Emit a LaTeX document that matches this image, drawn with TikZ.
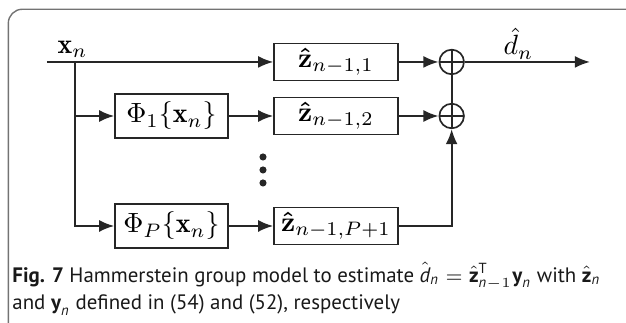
\documentclass[tikz,border=0pt]{standalone}
\usepackage{amsmath}
\usepackage{amssymb}
\usepackage{fontspec}
\newfontfamily\capfont{PT Sans}
\usetikzlibrary{arrows.meta,calc,positioning}
\tikzset{
  blk/.style={rectangle,draw=black!85,fill=white,line width=.5pt,inner sep=0pt,minimum width=1.565cm,minimum height=.47cm},
  nlb/.style={blk,minimum width=1.426cm,minimum height=.555cm},
  sm/.style={circle,draw=black!85,fill=white,minimum size=3.1mm,inner sep=0pt,line width=.6pt,
    path picture={\draw[line width=.6pt] (path picture bounding box.north)--(path picture bounding box.south)
      (path picture bounding box.west)--(path picture bounding box.east);}},
  wire/.style={draw=black!85,line width=.7pt},
  sig/.style={wire,-{Latex[length=1.9mm,width=1.5mm]}},
  frm/.style={draw=black!55,line width=.5pt,rounded corners=5pt},
  lb/.style={inner sep=0pt},
  captxt/.style={font=\capfont\fontsize{7.5}{10}\selectfont,anchor=base west,inner sep=0pt,text=black!90},
}
\begin{document}
\begin{tikzpicture}
\useasboundingbox (0,0) rectangle (7.900,4.076);
% ---------- frame ----------
\draw[frm] (0.105,-0.1) |- (8.0,3.959);
% ---------- blocks ----------
\node[blk] (z1) at (4.240,3.294) {$\boldsymbol{\hat{\mathbf{z}}}_{n-1,1}$};
\node[nlb] (phi1) at (2.164,2.612) {$\Phi_1\{\mathbf{x}_n\}$};
\node[blk] (z2) at (4.240,2.612) {$\boldsymbol{\hat{\mathbf{z}}}_{n-1,2}$};
\node[nlb] (phiP) at (2.164,1.224) {$\Phi_P\{\mathbf{x}_n\}$};
\node[blk] (zP) at (4.240,1.224) {$\boldsymbol{\hat{\mathbf{z}}}_{n-1,P+1}$};
\node[sm] (s1) at (5.700,3.294) {};
\node[sm] (s2) at (5.700,2.612) {};
\coordinate (in) at (0.593,3.294);
\coordinate (br) at (0.947,3.294);
\coordinate (b1) at (br |- phi1.west);
\coordinate (out) at (7.446,3.294);
% ---------- connectors ----------
\draw[sig] (in) -- (z1);
\draw[sig] (b1) -- (phi1);
\draw[sig] (br) |- (phiP);
\draw[sig] (phi1) -- (z2);
\draw[sig] (phiP) -- (zP);
\draw[sig] (z1) -- (s1);
\draw[sig] (z2) -- (s2);
\draw[sig] (zP) -| (s2);
\draw[wire] (s2) -- (s1);
\draw[sig] (s1) -- (out);
\foreach \y in {2.095,1.931,1.767} \fill[black!85] (3.319,\y) circle (0.045);
% ---------- labels ----------
\node[lb,anchor=base west] (xl) at (0.72,3.407) {$\mathbf{x}_n$};
\node[lb,anchor=base west] (dl) at (6.348,3.382) {$\hat{d}_n$};
% ---------- caption ----------
\node[captxt] (capA) at (0.15,0.517) {{\bfseries Fig. 7} Hammerstein group model to estimate
  $\hat{\textit{d}}_{\textit{n}}=\hat{\textbf{z}}^{\textup{T}}_{\textit{n}-1}\textbf{y}_{\textit{n}}$ with $\hat{\textbf{z}}_{\textit{n}}$};
\node[captxt] (capB) at (0.15,0.164) {and $\textbf{y}_{\textit{n}}$ defined in (54) and (52), respectively};
\end{tikzpicture}
\end{document}
